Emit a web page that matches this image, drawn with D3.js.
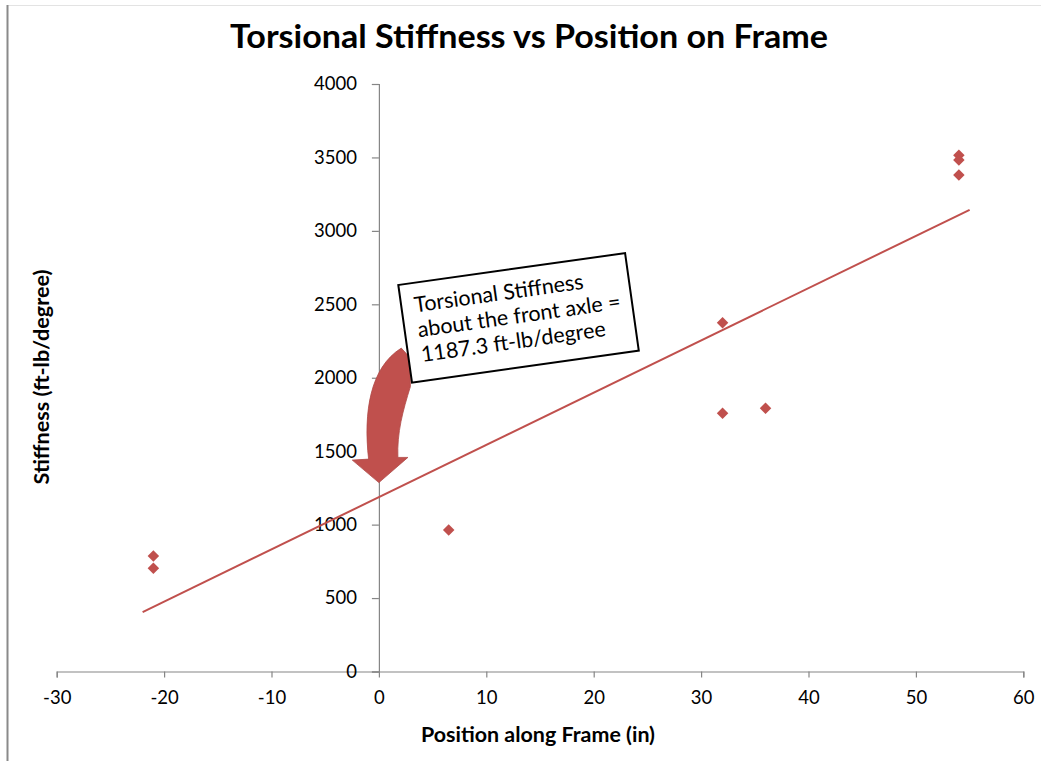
<!DOCTYPE html>
<html>
<head>
<meta charset="utf-8">
<script src="https://cdn.jsdelivr.net/npm/d3@7"></script>
<style>
  html, body { margin: 0; padding: 0; background: #ffffff; }
  svg { display: block; }
  text { font-family: Lato, "Open Sans", sans-serif; }
</style>
</head>
<body>
<svg id="chart" width="1041" height="761"></svg>
<script>
// Measured torsional stiffness at positions along the frame
const positions = [-21, -21, 6.5, 32, 32, 36, 54, 54, 54];          // in
const stiffness = [786, 703, 963, 2375, 1758, 1792, 3515, 3483, 3381]; // ft-lb/degree

// Linear trend line (stiffness = slope * position + intercept)
const trendIntercept = 1187.3;
const trendSlope = 35.57;
const trendRange = [-22, 55];

const xTicks = [-30, -20, -10, 0, 10, 20, 30, 40, 50, 60];
const yTicks = [0, 500, 1000, 1500, 2000, 2500, 3000, 3500, 4000];

const titleText = "Torsional Stiffness vs Position on Frame";
const xLabel = "Position along Frame (in)";
const yLabel = "Stiffness (ft-lb/degree)";
const calloutLines = ["Torsional Stiffness", "about the front axle =", "1187.3 ft-lb/degree"];

const red = "#C0504D";
const axisGrey = "#868686";

const svg = d3.select("#chart");

// outer chart frame edges
svg.append("line").attr("x1", 8).attr("x2", 1041).attr("y1", 5.5).attr("y2", 5.5)
  .attr("stroke", "#e3e3e3").attr("stroke-width", 1);
svg.append("line").attr("x1", 7.5).attr("x2", 7.5).attr("y1", 5).attr("y2", 761)
  .attr("stroke", "#8a8a8a").attr("stroke-width", 2);

const x = d3.scaleLinear().domain([-30, 60]).range([56.7, 1023.3]);
const y = d3.scaleLinear().domain([0, 4000]).range([671.5, 84]);

// Title
svg.append("text")
  .attr("x", 529).attr("y", 48)
  .attr("text-anchor", "middle")
  .attr("font-size", 32).attr("font-weight", "bold")
  .attr("textLength", 598).attr("lengthAdjust", "spacingAndGlyphs")
  .attr("fill", "#000")
  .text(titleText);

// X axis (at y = 0)
const xAxis = svg.append("g")
  .attr("transform", `translate(0,${y(0)})`)
  .call(d3.axisBottom(x).tickValues(xTicks).tickSize(6).tickPadding(13).tickFormat(d3.format("d")));
xAxis.select(".domain").attr("stroke", axisGrey).attr("stroke-width", 1.2);
xAxis.selectAll(".tick line").attr("stroke", axisGrey).attr("stroke-width", 1.2);
xAxis.selectAll(".tick text")
  .attr("font-size", 18.5).attr("fill", "#000")
  .attr("font-family", "Lato, sans-serif")
  .text(d => d < 0 ? "-" + Math.abs(d) : d);

// Y axis (at x = 0)
const yAxis = svg.append("g")
  .attr("transform", `translate(${x(0)},0)`)
  .call(d3.axisLeft(y).tickValues(yTicks).tickSize(7).tickPadding(15).tickFormat(d3.format("d")));
yAxis.select(".domain").attr("stroke", axisGrey).attr("stroke-width", 1.2);
yAxis.selectAll(".tick line").attr("stroke", axisGrey).attr("stroke-width", 1.2);
yAxis.selectAll(".tick text")
  .attr("font-size", 18.5).attr("fill", "#000")
  .attr("font-family", "Lato, sans-serif");

// Axis titles
svg.append("text")
  .attr("x", 538).attr("y", 742)
  .attr("text-anchor", "middle")
  .attr("font-size", 21).attr("font-weight", "bold")
  .attr("textLength", 234).attr("lengthAdjust", "spacingAndGlyphs")
  .text(xLabel);

svg.append("text")
  .attr("transform", "translate(49,377) rotate(-90)")
  .attr("text-anchor", "middle")
  .attr("font-size", 21).attr("font-weight", "bold")
  .attr("textLength", 215).attr("lengthAdjust", "spacingAndGlyphs")
  .text(yLabel);

// Trend line
svg.append("line")
  .attr("x1", x(trendRange[0])).attr("y1", y(trendSlope * trendRange[0] + trendIntercept))
  .attr("x2", x(trendRange[1])).attr("y2", y(trendSlope * trendRange[1] + trendIntercept))
  .attr("stroke", red).attr("stroke-width", 2);

// Data points (diamonds)
const points = positions.map((p, i) => ({ p, s: stiffness[i] }));
svg.append("g").selectAll("path")
  .data(points)
  .join("path")
  .attr("d", d3.symbol().type(d3.symbolSquare).size(66))
  .attr("transform", d => `translate(${x(d.p)},${y(d.s)}) rotate(45)`)
  .attr("fill", red);

// Curved block arrow pointing at the intercept, tip slightly above it
const tipX = x(0);
const tipY = y(trendIntercept) - 14.5;
const arrow = d3.path();
arrow.moveTo(0, 0);
arrow.lineTo(-26.6, -22.5);
arrow.lineTo(-10.3, -23.5);
arrow.bezierCurveTo(-15.5, -70, -9, -115, 22.4, -134.5);
arrow.lineTo(31, -125);
arrow.lineTo(31.5, -96);
arrow.bezierCurveTo(24, -72, 18, -50, 19, -25.2);
arrow.lineTo(29, -25.2);
arrow.closePath();
svg.append("path")
  .attr("d", arrow.toString())
  .attr("transform", `translate(${tipX},${tipY})`)
  .attr("fill", red)
  .attr("stroke", "#b04a47").attr("stroke-width", 0.8);

// Callout box with the intercept value
const callout = svg.append("g")
  .attr("transform", "translate(398.3,285) rotate(-8)");
callout.append("rect")
  .attr("x", 0).attr("y", 0)
  .attr("width", 229).attr("height", 98.5)
  .attr("fill", "#fff")
  .attr("stroke", "#000").attr("stroke-width", 2);
callout.selectAll("text.callout")
  .data(calloutLines)
  .join("text")
  .attr("class", "callout")
  .attr("x", 13)
  .attr("y", (d, i) => 29.5 + i * 25)
  .attr("font-size", 21.5)
  .attr("fill", "#000")
  .text(d => d);
</script>
</body>
</html>
